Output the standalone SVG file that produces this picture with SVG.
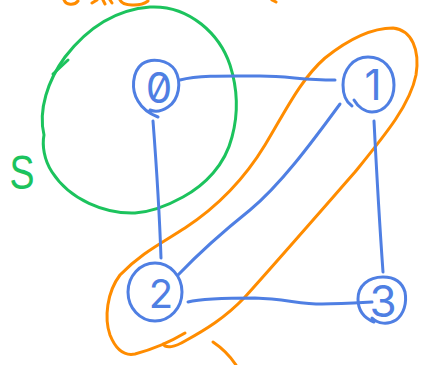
<svg xmlns="http://www.w3.org/2000/svg" width="439" height="365" viewBox="0 0 439 365">
<style>
.b{fill:none;stroke:#4f7fe3;stroke-width:3;stroke-linecap:round;stroke-linejoin:round}
.g{fill:none;stroke:#1cc35d;stroke-width:3;stroke-linecap:round;stroke-linejoin:round}
.o{fill:none;stroke:#ff8c00;stroke-width:3;stroke-linecap:round;stroke-linejoin:round}
.d{fill:#4f7fe3;font-family:Inter,"Liberation Sans",sans-serif;font-weight:400;text-anchor:middle;font-variant-numeric:slashed-zero;font-feature-settings:"zero" 1}
</style>
<rect width="439" height="365" fill="#fff"/>
<g id="top-marks">
<path class="o" d="M64,0 C66,5 74,6 78,1 M92,3 L97,0 M103,0 L105,4 M110,0 L112,3 M120,0 C123,6 140,7 148,1 M272,0 L276,2"/>
</g>
<g id="set-S">
<path class="g" d="M44,135 C38,110 48,80 65,57 C82,35 110,10 150,7 C190,5 220,35 230,65 C238,90 238,115 232,137 C225,165 205,185 183,197 C165,207 150,212 135,213 C105,214 70,200 52,172 C44,160 42,145 44,135 Z"/>
<path class="g" d="M53,74 L68,60"/>
<text x="22" y="189" font-family="'Liberation Sans',sans-serif" font-size="48" fill="#1cc35d" text-anchor="middle" textLength="25" lengthAdjust="spacingAndGlyphs">S</text>
</g>
<g id="set-orange">
<path class="o" d="M163,344 C166,349 175,347 185,341 C205,330 225,318 245,297 C280,258 320,212 355,172 C385,135 410,105 416,75 C420,50 412,30 393,28 C370,28 345,42 325,58 C300,80 285,112 265,145 C245,178 220,205 185,228 C160,244 140,254 120,275 C107,292 104,318 110,335 C116,350 125,356 135,354 C150,350 170,342 185,333"/>
<path class="o" d="M213,342 C222,348 230,356 236,365"/>
</g>
<g id="connectors">
<path class="b" d="M180,80 C200,75 230,76 260,76 C290,76 300,80 335,80"/>
<path class="b" d="M153,121 C156,160 159,200 161,258"/>
<path class="b" d="M178,275 C200,252 225,230 250,210 C280,185 310,145 340,104"/>
<path class="b" d="M374,121 C377,180 380,230 383,272"/>
<path class="b" d="M188,302 C200,299 230,298 255,298 C285,299 300,304 322,304 C340,304 355,303 372,302"/>
</g>
<g id="node-0">
<path class="b" d="M158,117 C150,114 142,108 138,101 C131,90 132,72 142,64 C152,57 168,60 175,70 C182,82 179,100 168,107 C162,111 155,112 150,110"/>
<text class="d" x="159" y="103" font-size="42">0</text>
</g>
<g id="node-1">
<path class="b" d="M354,100 C358,107 365,112 372,112 C385,112 394,100 394,85 C394,68 383,57 368,57 C353,57 343,70 343,85 C343,95 346,102 352,106"/>
<text class="d" x="373" y="100" font-size="42">1</text>
</g>
<g id="node-2">
<ellipse class="b" cx="155" cy="292" rx="27" ry="29"/>
<text class="d" x="161" y="308" font-size="40">2</text>
</g>
<g id="node-3">
<path class="b" d="M372,318 C378,324 388,325 396,320 C404,314 407,303 405,292 C402,282 394,277 383,277 C368,277 358,286 358,299 C358,310 364,318 374,322"/>
<text class="d" x="383" y="317" font-size="44">3</text>
</g>
</svg>
